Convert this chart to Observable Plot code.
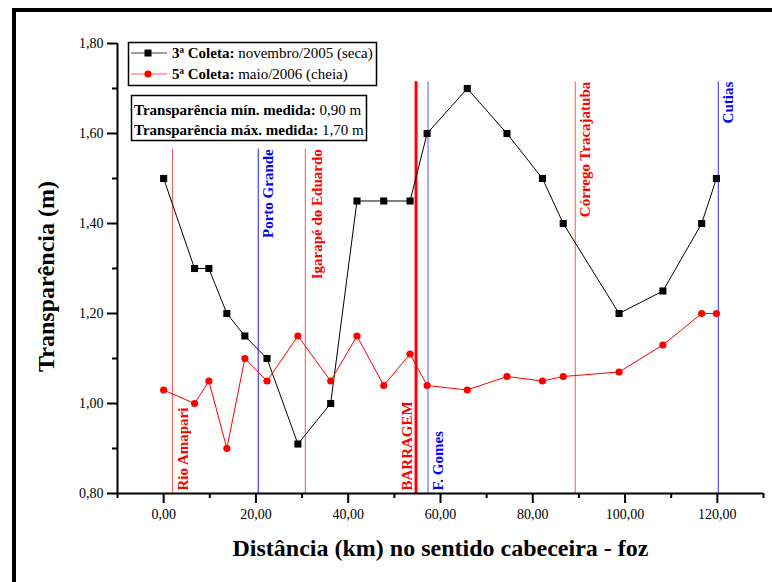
<!DOCTYPE html>
<html>
<head>
<meta charset="utf-8">
<script src="https://cdn.jsdelivr.net/npm/d3@7"></script>
<script src="https://cdn.jsdelivr.net/npm/@observablehq/plot@0.6"></script>
<style>
  body { margin: 0; background: #fff; }
  #wrap { position: relative; width: 772px; height: 582px; overflow: hidden; }
  #frame { position: absolute; left: 12px; top: 8px; width: 800px; height: 600px;
           border-top: 4px solid #000; border-left: 4px solid #000; pointer-events: none; }
  #chart { position: absolute; left: 0; top: 0; }
</style>
</head>
<body>
<div id="wrap"><div id="chart"></div><div id="frame"></div></div>
<script>
// ---- data ----
const distanciaKm = [0, 6.7, 9.8, 13.7, 17.6, 22.4, 29.1, 36.2, 41.9, 47.7, 53.4, 57.1, 65.8, 74.4, 82.1, 86.6, 98.7, 108.2, 116.6, 119.8];
const coleta3 = [1.50, 1.30, 1.30, 1.20, 1.15, 1.10, 0.91, 1.00, 1.45, 1.45, 1.45, 1.60, 1.70, 1.60, 1.50, 1.40, 1.20, 1.25, 1.40, 1.50];
const coleta5 = [1.03, 1.00, 1.05, 0.90, 1.10, 1.05, 1.15, 1.05, 1.15, 1.04, 1.11, 1.04, 1.03, 1.06, 1.05, 1.06, 1.07, 1.13, 1.20, 1.20];

const placeNames = ["Rio Amapari", "Porto Grande", "Igarapé do Eduardo", "BARRAGEM", "F. Gomes", "Córrego Tracajatuba", "Cutias"];
const placeKm = [1.9, 20.5, 30.7, 54.7, 57.3, 89.2, 120.2];
const placeTop = [1.565, 1.565, 1.565, 1.715, 1.715, 1.715, 1.715];

const xTicksMajor = [0, 20, 40, 60, 80, 100, 120];
const xTicksMinor = [-10, 10, 30, 50, 70, 90, 110, 130];
const yTicksMajor = [0.8, 1.0, 1.2, 1.4, 1.6, 1.8];
const yTicksMinor = [0.9, 1.1, 1.3, 1.5, 1.7];

const seriesBold = ["3ª Coleta:", "5ª Coleta:"];
const seriesText = [" novembro/2005 (seca)", " maio/2006 (cheia)"];
const noteBold = ["Transparência mín. medida:", "Transparência máx. medida:"];
const noteText = [" 0,90 m", " 1,70 m"];

const xTitle = "Distância (km) no sentido cabeceira - foz";
const yTitle = "Transparência (m)";

// ---- styles ----
const placeStyle = {
  "Rio Amapari":        {stroke: "#ff5050", fill: "#ff0000", w: 1,   at: "bottom", dx: 11},
  "Porto Grande":       {stroke: "#1a1aff", fill: "#0000ff", w: 1,   at: "top",    dx: 10},
  "Igarapé do Eduardo": {stroke: "#ff5050", fill: "#ff0000", w: 1,   at: "top",    dx: 12},
  "BARRAGEM":           {stroke: "#ff0000", fill: "#ff0000", w: 3,   at: "bottom", dx: -9},
  "F. Gomes":           {stroke: "#5555ff", fill: "#0000ff", w: 1,   at: "bottom", dx: 10},
  "Córrego Tracajatuba":{stroke: "#ff5050", fill: "#ff0000", w: 1,   at: "top",    dx: 10},
  "Cutias":             {stroke: "#2a2aff", fill: "#0000ff", w: 1,   at: "top",    dx: 10}
};

const fmt = d => d3.format(".2f")(d).replace(".", ",");
const FONT = "'Liberation Serif', 'Times New Roman', serif";

const d3pts = distanciaKm.map((x, i) => ({x, y: coleta3[i]}));
const d5pts = distanciaKm.map((x, i) => ({x, y: coleta5[i]}));
const places = placeNames.map((name, i) => ({name, km: placeKm[i], top: placeTop[i]}));

const placeMarks = [];
places.forEach(p => {
  const s = placeStyle[p.name];
  placeMarks.push(Plot.ruleX([p], {x: "km", y1: 0.8, y2: "top", stroke: s.stroke, strokeWidth: s.w}));
  placeMarks.push(Plot.text([p], {
    x: "km", y: s.at === "bottom" ? 0.8 : "top", text: "name", rotate: -90,
    textAnchor: s.at === "bottom" ? "start" : "end",
    dx: s.dx, dy: s.at === "bottom" ? -3 : 0,
    fill: s.fill, fontWeight: "bold", fontSize: 15
  }));
});

const chart = Plot.plot({
  width: 772, height: 582,
  marginLeft: 117, marginRight: 9, marginTop: 43, marginBottom: 89,
  style: {fontFamily: FONT, color: "#000", background: "transparent"},
  x: {domain: [-10, 130], label: null},
  y: {domain: [0.8, 1.8], label: null},
  marks: [
    ...placeMarks,
    Plot.line(d3pts, {x: "x", y: "y", stroke: "#000", strokeWidth: 1}),
    Plot.line(d5pts, {x: "x", y: "y", stroke: "#ff0000", strokeWidth: 1}),
    Plot.dot(d3pts, {x: "x", y: "y", symbol: "square", r: 4, fill: "#000"}),
    Plot.dot(d5pts, {x: "x", y: "y", r: 3.6, fill: "#ff0000"}),
    Plot.ruleX([-10], {y1: 0.8, y2: 1.8, strokeWidth: 2}),
    Plot.ruleY([0.8], {x1: -10, x2: 130, strokeWidth: 2}),
    Plot.axisX({ticks: xTicksMajor, tickSize: 10, tickPadding: 6, tickFormat: fmt, fontSize: 14, strokeWidth: 2, label: null}),
    Plot.axisX({ticks: xTicksMinor, tickSize: 5, tickFormat: () => "", strokeWidth: 2, label: null}),
    Plot.axisY({ticks: yTicksMajor, tickSize: 10, tickPadding: 4, tickFormat: fmt, fontSize: 14, strokeWidth: 2, label: null}),
    Plot.axisY({ticks: yTicksMinor, tickSize: 5, tickFormat: () => "", strokeWidth: 2, label: null}),
    Plot.text([xTitle], {frameAnchor: "bottom", textAnchor: "middle", lineAnchor: "middle", dy: 55, fontSize: 24, fontWeight: "bold"}),
    Plot.text([yTitle], {frameAnchor: "left", textAnchor: "middle", lineAnchor: "middle", rotate: -90, dx: -71, dy: 8, fontSize: 24, fontWeight: "bold"})
  ]
});
document.getElementById("chart").appendChild(chart);

// ---- legend boxes ----
const svg = d3.select(chart);
const lg = svg.append("g").attr("font-family", FONT).attr("font-size", 15).attr("text-anchor", "start").attr("fill", "#000");
lg.append("rect").attr("x", 128.5).attr("y", 42.5).attr("width", 248).attr("height", 43)
  .attr("fill", "#fff").attr("stroke", "#000").attr("stroke-width", 1.5);
const rowsY = [53, 74];
const lineCol = ["#444", "#ff5a5a"];
rowsY.forEach((y, i) => {
  lg.append("line").attr("x1", 131).attr("x2", 167).attr("y1", y).attr("y2", y)
    .attr("stroke", lineCol[i]).attr("stroke-width", 1.2);
  if (i === 0) lg.append("rect").attr("x", 144.5).attr("y", y - 3.5).attr("width", 7).attr("height", 7).attr("fill", "#000");
  else lg.append("circle").attr("cx", 148).attr("cy", y).attr("r", 3.6).attr("fill", "#ff0000");
  const t = lg.append("text").attr("x", 172).attr("y", y).attr("dy", "0.35em").attr("text-anchor", "start");
  t.append("tspan").attr("font-weight", "bold").text(seriesBold[i]);
  t.append("tspan").style("white-space", "pre").text(seriesText[i]);
});
lg.append("rect").attr("x", 131.5).attr("y", 95.5).attr("width", 235).attr("height", 45)
  .attr("fill", "#fff").attr("stroke", "#000").attr("stroke-width", 1.5);
[110, 130].forEach((y, i) => {
  const t = lg.append("text").attr("x", 134).attr("y", y).attr("dy", "0.35em").attr("text-anchor", "start");
  t.append("tspan").attr("font-weight", "bold").text(noteBold[i]);
  t.append("tspan").style("white-space", "pre").text(noteText[i]);
});
</script>
</body>
</html>
